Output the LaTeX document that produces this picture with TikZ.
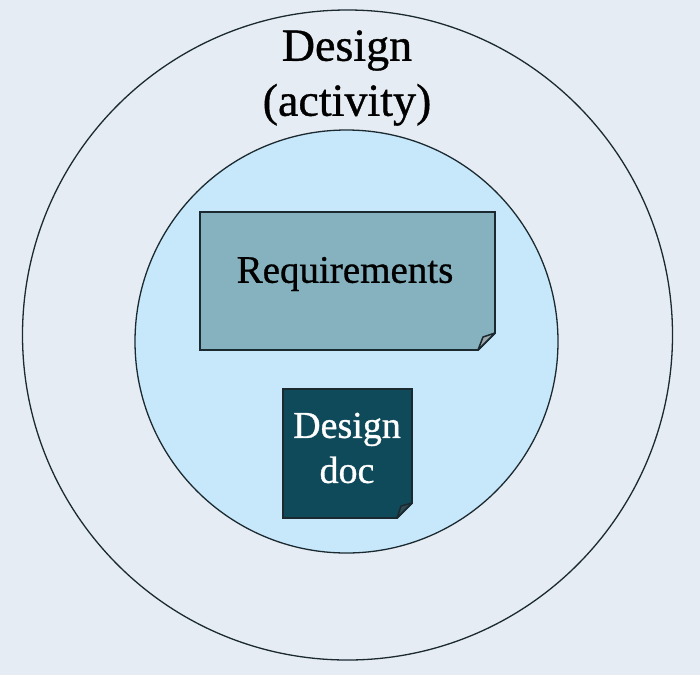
\documentclass[tikz,border=0pt]{standalone}
\usepackage{fontspec}
\setmainfont{Liberation Serif}[FakeBold=0.8]
\newfontfamily\heavyserif{Liberation Serif}[FakeBold=0.8]
\definecolor{bg}{HTML}{E6ECF3}
\definecolor{inner}{HTML}{C6E8FA}
\definecolor{req}{HTML}{86B2C0}
\definecolor{ddoc}{HTML}{0F4A5B}
\definecolor{edge}{HTML}{1B2A30}
\definecolor{foldA}{HTML}{9AA6AA}
\definecolor{foldB}{HTML}{2E4A52}
\tikzset{
  ring/.style={draw=edge, line width=1.3pt},
  doc/.style={draw=edge, line width=1.8pt, line join=miter},
  fold/.style={draw=edge, line width=1.5pt, line join=round},
  lbl/.style={align=center, inner sep=0pt}
}
\begin{document}
\begin{tikzpicture}[x=1pt,y=-1pt]
\fill[bg] (0,0) rectangle (700,675);
\useasboundingbox (0,0) rectangle (700,675);
% outer circle
\node[ring, circle, minimum size=650pt, inner sep=0pt] (outer) at (347.5,335) {};
% inner circle
\node[ring, circle, fill=inner, minimum size=423pt, inner sep=0pt] (innerc) at (346.5,341.5) {};
% Requirements doc
\draw[doc, fill=req] (200,212) -- (495,212) -- (495,333) -- (478,350) -- (200,350) -- cycle;
\draw[fold, fill=foldA] (495,333) -- (483,337) -- (478,350) -- cycle;
% Design doc
\draw[doc, fill=ddoc] (283,389) -- (412,389) -- (412,503) -- (397,518) -- (283,518) -- cycle;
\draw[fold, fill=foldB] (412,503) -- (401,506) -- (397,518) -- cycle;
% labels
\node[lbl, font=\heavyserif\fontsize{46}{55}\selectfont] (title) at (347,78) {Design\\(activity)};
\node[lbl, font=\heavyserif\fontsize{39}{45}\selectfont] (reqlbl) at (345,274) {Requirements};
\node[lbl, text=white, font=\heavyserif\fontsize{38}{45}\selectfont] (ddlbl) at (347,448) {Design\\doc};
\end{tikzpicture}
\end{document}
